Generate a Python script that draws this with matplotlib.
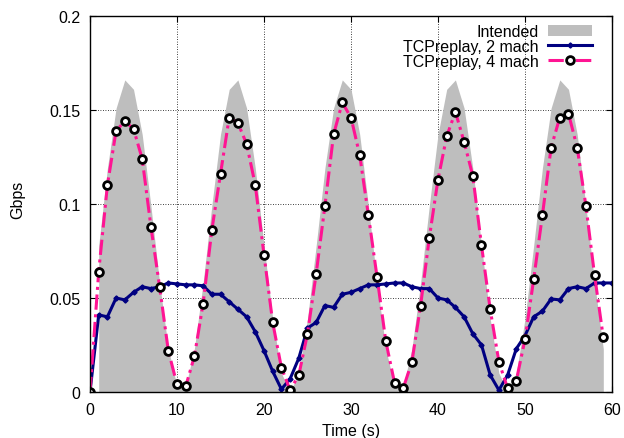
import numpy as np
import matplotlib.pyplot as plt

plt.rcParams['font.family'] = ['Liberation Sans', 'DejaVu Sans']
plt.rcParams['font.size'] = 11.5

# intended rate, sampled each second from t=1 to t=59
t_intended = list(range(1, 60))
intended = [0.078, 0.119, 0.151, 0.166, 0.161, 0.137, 0.099, 0.058, 0.023, 0.003,
            0.003, 0.023, 0.058, 0.099, 0.137, 0.161, 0.166, 0.151, 0.119, 0.078,
            0.039, 0.010, 0.000, 0.010, 0.039,
            0.078, 0.119, 0.151, 0.166, 0.161, 0.137, 0.099, 0.058, 0.023, 0.003,
            0.003, 0.023, 0.058, 0.099, 0.137, 0.161, 0.166, 0.151, 0.119, 0.078,
            0.039, 0.010, 0.000, 0.010, 0.039,
            0.078, 0.119, 0.151, 0.166, 0.161, 0.137, 0.099, 0.058, 0.023]

# TCPreplay with 2 machines, t=0..60
t_2mach = list(range(0, 61))
mach2 = [0.000, 0.041, 0.040, 0.050, 0.049, 0.053, 0.056, 0.055, 0.056, 0.058,
         0.0575, 0.057, 0.057, 0.0565, 0.052, 0.052, 0.048, 0.044, 0.040, 0.032,
         0.022, 0.011, 0.0015, 0.007, 0.018, 0.034, 0.037, 0.046, 0.045, 0.052,
         0.053, 0.055, 0.057, 0.057, 0.0575, 0.058, 0.058, 0.056, 0.055, 0.055,
         0.050, 0.049, 0.045, 0.040, 0.031, 0.025, 0.009, 0.001, 0.009, 0.023,
         0.030, 0.040, 0.043, 0.0495, 0.049, 0.055, 0.056, 0.055, 0.058, 0.058,
         0.058]

# TCPreplay with 4 machines, t=0..59
t_4mach = list(range(0, 60))
mach4 = [0.000, 0.064, 0.110, 0.139, 0.144, 0.140, 0.124, 0.088, 0.056, 0.022,
         0.004, 0.003, 0.019, 0.047, 0.086, 0.116, 0.146, 0.143, 0.132, 0.110,
         0.073, 0.037, 0.013, 0.001, 0.009, 0.031, 0.063, 0.099, 0.137, 0.154,
         0.146, 0.126, 0.094, 0.061, 0.027, 0.005, 0.002, 0.016, 0.046, 0.082,
         0.113, 0.136, 0.149, 0.133, 0.115, 0.078, 0.044, 0.016, 0.002, 0.006,
         0.028, 0.060, 0.094, 0.130, 0.146, 0.148, 0.130, 0.099, 0.062, 0.029]

x_ticks = [0, 10, 20, 30, 40, 50, 60]
y_ticks = [0, 0.05, 0.1, 0.15, 0.2]
y_tick_labels = ['0', '0.05', '0.1', '0.15', '0.2']

fig = plt.figure(figsize=(6.24, 4.39), dpi=100)
ax = fig.add_axes([90/624, 1-393/439, 522/624, 376/439])

ax.fill_between(t_intended, intended, 0, color='#bebebe', linewidth=0,
                label='Intended', zorder=2)
ax.plot(t_2mach, mach2, color='#000080', linewidth=2.2, marker='D', markersize=2.6,
        label='TCPreplay, 2 mach', zorder=3)
ax.plot(t_4mach, mach4, color='#ff1493', linewidth=2.2, linestyle=(0, (5, 1.5, 1, 1.5)),
        marker='o', markersize=5.6, markerfacecolor='white', markeredgecolor='black',
        markeredgewidth=2, label='TCPreplay, 4 mach', zorder=4)

ax.set_xlim(0, 60)
ax.set_ylim(0, 0.2)
ax.set_xticks(x_ticks)
ax.set_yticks(y_ticks)
ax.set_yticklabels(y_tick_labels)
ax.tick_params(direction='in', length=4.5, width=0.8, top=True, right=True, pad=7)
ax.grid(True, color='black', linestyle=(0, (1, 2)), linewidth=0.6, zorder=0)
ax.set_axisbelow(True)
for s in ax.spines.values():
    s.set_linewidth(1.0)
    s.set_zorder(5)

fig.text(18/624, 1-200/439, 'Gbps', rotation=90, ha='center', va='center')
fig.text(351/624, 1-432/439, 'Time (s)', ha='center', va='center')

ax.legend(loc='upper right', bbox_to_anchor=((592-90)/522, (393-25)/376),
          frameon=False, markerfirst=False, borderpad=0, borderaxespad=0,
          handlelength=2.75, handletextpad=0.6, labelspacing=0.0, numpoints=1)

plt.savefig('out.png', dpi=100)
